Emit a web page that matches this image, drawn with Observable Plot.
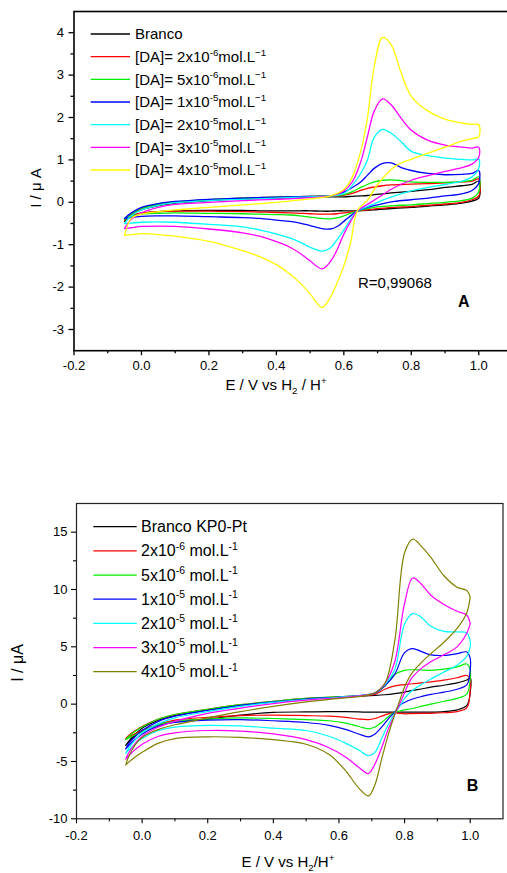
<!DOCTYPE html>
<html><head><meta charset="utf-8">
<script src="https://cdn.jsdelivr.net/npm/d3@7"></script>
<script src="https://cdn.jsdelivr.net/npm/@observablehq/plot@0.6"></script>
<style>
html,body{margin:0;padding:0;overflow:hidden;background:#fff;width:507px;height:873px}
#wrap{position:relative;width:507px;height:873px;overflow:hidden}
.panel{position:absolute;left:0}
#wrap svg{max-width:none !important;}
</style></head><body><div id="wrap"><div id="pa" class="panel" style="top:0"></div><div id="pb" class="panel" style="top:480px"></div></div>
<script>
// ---------- shared ----------
const xTicks = [-0.2, 0, 0.2, 0.4, 0.6, 0.8, 1.0];
const xMinor = [-0.1, 0.1, 0.3, 0.5, 0.7, 0.9];
const mantissas = ["2", "5", "1", "2", "3", "4"];
const exponents = ["-6", "-6", "-5", "-5", "-5", "-5"];

// ---------- panel A ----------
const namesA = ["Branco", "2e-6", "5e-6", "1e-5", "2e-5", "3e-5", "4e-5"];
const colorsA = ["#000000", "#ff0000", "#00ee00", "#0000ff", "#00ffff", "#ff00ff", "#ffff00"];
const yTicksA = [-3, -2, -1, 0, 1, 2, 3, 4];
const yMinorA = [-2.5, -1.5, -0.5, 0.5, 1.5, 2.5, 3.5];
const EfA = [-0.05, -0.03, 0, 0.05, 0.1, 0.2, 0.3, 0.4, 0.5, 0.56, 0.6, 0.625, 0.65, 0.67, 0.69, 0.715, 0.74, 0.77, 0.8, 0.85, 0.9, 0.95, 0.98, 1.0];
const IfA_black   = [-0.45,-0.3,-0.18,-0.08,-0.02,0.04,0.08,0.1,0.12,0.13,0.13,0.14,0.15,0.16,0.18,0.2,0.22,0.24,0.26,0.3,0.35,0.39,0.42,0.5];
const IfA_red     = [-0.42,-0.28,-0.15,-0.05,0,0.06,0.1,0.12,0.14,0.15,0.17,0.21,0.28,0.33,0.36,0.39,0.41,0.42,0.43,0.44,0.46,0.48,0.5,0.55];
const IfA_green   = [-0.4,-0.27,-0.14,-0.04,0.01,0.06,0.1,0.12,0.14,0.15,0.18,0.25,0.35,0.42,0.48,0.52,0.53,0.51,0.48,0.47,0.47,0.49,0.52,0.6];
const IfA_blue    = [-0.38,-0.25,-0.12,-0.03,0.02,0.07,0.1,0.12,0.14,0.15,0.24,0.35,0.48,0.64,0.8,0.92,0.93,0.82,0.75,0.68,0.65,0.66,0.68,0.75];
const IfA_cyan    = [-0.5,-0.32,-0.18,-0.07,-0.01,0.04,0.07,0.1,0.13,0.15,0.21,0.4,0.68,1.0,1.53,1.72,1.63,1.43,1.2,1.1,1.04,1.01,1.0,1.02];
const IfA_magenta = [-0.62,-0.4,-0.25,-0.12,-0.05,0,0.04,0.07,0.11,0.15,0.27,0.48,0.95,1.55,2.15,2.44,2.3,1.98,1.7,1.46,1.35,1.3,1.28,1.3];
const IfA_yellow  = [-0.78,-0.38,-0.28,-0.22,-0.18,-0.12,-0.06,0,0.08,0.15,0.3,0.6,1.2,2.0,3.2,3.89,3.72,3.05,2.5,2.15,1.96,1.87,1.84,1.83];
const ErA = [1.0, 0.98, 0.95, 0.9, 0.85, 0.8, 0.75, 0.7, 0.67, 0.64, 0.62, 0.6, 0.58, 0.56, 0.535, 0.5, 0.47, 0.44, 0.4, 0.35, 0.3, 0.2, 0.1, 0.05, 0, -0.03, -0.05];
const IrA_black   = [0.1,0.03,-0.02,-0.06,-0.09,-0.12,-0.14,-0.17,-0.19,-0.2,-0.2,-0.2,-0.2,-0.21,-0.21,-0.2,-0.2,-0.2,-0.2,-0.2,-0.19,-0.19,-0.2,-0.22,-0.26,-0.33,-0.45];
const IrA_red     = [0.15,0.06,0,-0.04,-0.07,-0.1,-0.12,-0.15,-0.18,-0.2,-0.23,-0.25,-0.27,-0.28,-0.28,-0.27,-0.26,-0.25,-0.24,-0.23,-0.22,-0.21,-0.21,-0.22,-0.25,-0.32,-0.42];
const IrA_green   = [0.25,0.1,0.04,0,-0.03,-0.06,-0.08,-0.11,-0.15,-0.2,-0.26,-0.32,-0.37,-0.39,-0.38,-0.35,-0.32,-0.3,-0.29,-0.28,-0.27,-0.26,-0.25,-0.26,-0.28,-0.33,-0.4];
const IrA_blue    = [0.45,0.28,0.2,0.15,0.1,0.06,0.02,-0.06,-0.12,-0.2,-0.32,-0.45,-0.57,-0.63,-0.62,-0.55,-0.49,-0.45,-0.42,-0.38,-0.36,-0.34,-0.32,-0.32,-0.33,-0.36,-0.38];
const IrA_cyan    = [0.8,0.6,0.5,0.42,0.35,0.27,0.15,0,-0.1,-0.2,-0.4,-0.65,-0.88,-1.08,-1.15,-1.06,-0.94,-0.84,-0.75,-0.65,-0.58,-0.52,-0.47,-0.46,-0.47,-0.49,-0.5];
const IrA_magenta = [1.06,0.9,0.82,0.73,0.63,0.52,0.35,0.1,-0.05,-0.2,-0.45,-0.75,-1.12,-1.4,-1.57,-1.38,-1.2,-1.06,-0.93,-0.8,-0.72,-0.63,-0.57,-0.56,-0.57,-0.6,-0.62];
const IrA_yellow  = [1.55,1.5,1.44,1.3,1.16,1.02,0.84,0.42,0.05,-0.2,-0.95,-1.5,-1.9,-2.24,-2.48,-2.16,-1.9,-1.69,-1.47,-1.28,-1.14,-0.92,-0.8,-0.76,-0.74,-0.76,-0.78];

// ---------- panel B ----------
const namesB = ["Branco KP0-Pt", "2e-6", "5e-6", "1e-5", "2e-5", "3e-5", "4e-5"];
const colorsB = ["#000000", "#ff0000", "#00ee00", "#0000ff", "#00ffff", "#ff00ff", "#808000"];
const yTicksB = [-10, -5, 0, 5, 10, 15];
const yMinorB = [-7.5, -2.5, 2.5, 7.5, 12.5];
const EfB = [-0.05, -0.04, -0.02, 0, 0.05, 0.1, 0.2, 0.3, 0.4, 0.5, 0.6, 0.68, 0.71, 0.74, 0.77, 0.8, 0.825, 0.85, 0.88, 0.92, 0.96, 0.99, 1.0];
const IfB_black   = [-3.6,-3.2,-2.6,-2.1,-1.4,-1.0,-0.5,-0.1,0.2,0.45,0.6,0.72,0.76,0.82,0.92,1.05,1.2,1.32,1.48,1.65,1.85,2.1,2.3];
const IfB_red     = [-3.0,-2.7,-2.3,-1.95,-1.3,-0.9,-0.45,-0.05,0.25,0.5,0.65,0.75,0.85,1.3,1.6,1.7,1.78,1.85,1.95,2.1,2.3,2.5,2.2];
const IfB_green   = [-3.1,-2.8,-2.35,-2.0,-1.3,-0.9,-0.45,-0.05,0.25,0.5,0.65,0.8,0.95,1.6,2.6,2.95,3.0,2.98,2.95,3.05,3.25,3.5,3.0];
const IfB_blue    = [-3.9,-3.4,-2.8,-2.3,-1.5,-1.05,-0.55,-0.1,0.2,0.45,0.62,0.8,0.95,1.6,2.6,4.5,4.85,4.6,4.3,4.25,4.4,4.55,4.0];
const IfB_cyan    = [-4.3,-3.8,-3.1,-2.5,-1.7,-1.2,-0.65,-0.2,0.15,0.4,0.6,0.8,1.0,1.7,3.0,7.0,7.9,7.6,6.8,6.35,6.3,6.2,5.5];
const IfB_magenta = [-4.8,-4.2,-3.4,-2.8,-2.0,-1.5,-0.8,-0.35,0.05,0.35,0.55,0.78,1.0,1.8,3.7,8.8,11.0,10.5,9.5,8.7,8.1,7.75,7.0];
const IfB_olive   = [-5.3,-4.5,-3.5,-2.9,-2.2,-1.8,-1.2,-0.65,-0.2,0.2,0.5,0.75,1.0,1.8,5.5,13.2,14.4,13.8,12.8,11.2,10.2,9.9,9.35];
const ErB = [1.0, 0.99, 0.96, 0.92, 0.88, 0.85, 0.82, 0.8, 0.785, 0.77, 0.75, 0.73, 0.71, 0.69, 0.66, 0.62, 0.57, 0.5, 0.4, 0.3, 0.2, 0.1, 0.05, 0, -0.03, -0.05];
const IrB_black   = [1.0,-0.1,-0.5,-0.65,-0.7,-0.7,-0.7,-0.7,-0.7,-0.7,-0.7,-0.7,-0.7,-0.7,-0.68,-0.66,-0.65,-0.68,-0.72,-0.95,-1.3,-1.5,-1.8,-2.3,-3.0,-3.6];
const IrB_red     = [1.2,-0.3,-0.65,-0.75,-0.8,-0.8,-0.82,-0.84,-0.8,-0.75,-0.85,-1.05,-1.25,-1.35,-1.3,-1.15,-1.05,-1.0,-0.95,-1.0,-1.15,-1.4,-1.75,-2.3,-2.7,-3.0];
const IrB_green   = [2.2,0.9,0.5,0.25,0.0,-0.2,-0.4,-0.5,-0.6,-0.7,-1.1,-1.6,-2.0,-2.15,-1.95,-1.65,-1.45,-1.35,-1.25,-1.2,-1.3,-1.5,-1.8,-2.4,-2.8,-3.1];
const IrB_blue    = [3.0,1.7,1.3,1.05,0.85,0.65,0.4,0.15,-0.1,-0.7,-1.3,-2.0,-2.6,-2.85,-2.6,-2.2,-1.85,-1.6,-1.45,-1.35,-1.4,-1.6,-1.9,-2.6,-3.3,-3.9];
const IrB_cyan    = [5.0,4.2,3.4,2.8,2.2,1.7,1.1,0.5,-0.2,-0.8,-1.8,-3.0,-4.2,-4.5,-4.0,-3.4,-2.8,-2.3,-2.1,-1.9,-1.85,-2.0,-2.3,-3.0,-3.7,-4.3];
const IrB_magenta = [7.0,6.2,5.0,4.3,3.7,3.1,2.2,1.0,0.0,-0.9,-2.2,-3.8,-5.2,-6.05,-5.5,-4.6,-3.8,-3.1,-2.6,-2.35,-2.3,-2.5,-2.8,-3.5,-4.2,-4.8];
const IrB_olive   = [9.35,8.0,6.6,5.4,4.4,3.6,2.6,1.5,0.3,-0.9,-2.7,-4.8,-7.0,-8.0,-7.3,-5.8,-4.4,-3.5,-3.1,-2.9,-2.85,-3.0,-3.4,-4.2,-4.8,-5.3];

const IfA = [IfA_black, IfA_red, IfA_green, IfA_blue, IfA_cyan, IfA_magenta, IfA_yellow];
const IrA = [IrA_black, IrA_red, IrA_green, IrA_blue, IrA_cyan, IrA_magenta, IrA_yellow];
const IfB = [IfB_black, IfB_red, IfB_green, IfB_blue, IfB_cyan, IfB_magenta, IfB_olive];
const IrB = [IrB_black, IrB_red, IrB_green, IrB_blue, IrB_cyan, IrB_magenta, IrB_olive];

const FONT = "'Liberation Sans', Arial, Helvetica, sans-serif";

function loops(names, Ef, If, Er, Ir) {
  const out = [];
  names.forEach((n, k) => {
    Ef.forEach((e, i) => out.push({E: e, I: If[k][i], s: n}));
    Er.forEach((e, i) => out.push({E: e, I: Ir[k][i], s: n}));
  });
  return out;
}

function rich(parent, x, y, fs, parts, attrs = {}) {
  const t = parent.append("text").attr("x", x).attr("y", y).attr("font-size", fs)
    .attr("font-family", FONT).attr("fill", "#000").attr("text-anchor", "start");
  Object.entries(attrs).forEach(([k, v]) => t.attr(k, v));
  let shift = 0;
  parts.forEach(p => {
    const target = p.sup ? -0.42 * fs : p.sub ? 0.28 * fs : 0;
    const ts = t.append("tspan").attr("dy", target - shift).text(p.t);
    if (p.sup || p.sub) ts.attr("font-size", 0.65 * fs);
    shift = target;
  });
  return t;
}

function panel(cfg) {
  const data = loops(cfg.names, cfg.Ef, cfg.If, cfg.Er, cfg.Ir);
  const svg = Plot.plot({
    width: cfg.width, height: cfg.height,
    marginLeft: cfg.ml, marginRight: cfg.mr, marginTop: cfg.mt, marginBottom: cfg.mb,
    style: {fontFamily: FONT, fontSize: cfg.tickFont + "px", color: "#000", background: "transparent", overflow: "visible", maxWidth: "none"},
    x: {domain: [-0.2, 1.1], label: null},
    y: {domain: cfg.yDomain, label: null},
    color: {domain: cfg.names, range: cfg.colors},
    marks: [
      Plot.line(data, {x: "E", y: "I", z: "s", stroke: "s", strokeWidth: cfg.lw, curve: "catmull-rom"}),
      Plot.axisX(xTicks, {tickSize: 5, tickPadding: cfg.xpad, tickFormat: d => d.toFixed(1), fontSize: cfg.tickFont, strokeWidth: cfg.tw, label: null}),
      Plot.axisX(xMinor, {tickSize: 3, tickFormat: () => "", strokeWidth: cfg.tw, label: null}),
      Plot.axisY(cfg.yTicks, {tickSize: 5, tickPadding: cfg.ypad, tickFormat: d => String(d), fontSize: cfg.tickFont, strokeWidth: cfg.tw, label: null}),
      Plot.axisY(cfg.yMinor, {tickSize: 3, tickFormat: () => "", strokeWidth: cfg.tw, label: null}),
      Plot.frame({stroke: cfg.frameColor, strokeWidth: cfg.fw})
    ]
  });
  return svg;
}

// ----- draw A -----
const svgA = panel({
  names: namesA, colors: colorsA, Ef: EfA, If: IfA, Er: ErA, Ir: IrA,
  width: 520, height: 400, ml: 73.5, mr: 8, mt: 11, mb: 49.8,
  yDomain: [-3.5, 4.5], yTicks: yTicksA, yMinor: yMinorA,
  tickFont: 13, lw: 1.3, tw: 1.3, fw: 1.6, frameColor: "#000", xpad: 5, ypad: 5
});
document.getElementById("pa").appendChild(svgA);
{
  const g = d3.select(svgA).append("g");
  const rowY = i => 34 + i * 22.67;
  namesA.forEach((n, i) => {
    g.append("line").attr("x1", 90.7).attr("x2", 130).attr("y1", rowY(i)).attr("y2", rowY(i))
      .attr("stroke", colorsA[i]).attr("stroke-width", 1.3);
    const parts = i === 0 ? [{t: "Branco"}] :
      [{t: "[DA]= " + mantissas[i - 1] + "x10"}, {t: exponents[i - 1], sup: true}, {t: "mol.L"}, {t: "\u22121", sup: true}];
    rich(g, 135, rowY(i) + 5.3, 15, parts);
  });
  rich(g, 35, 188, 15, [{t: "I / \u03bc A"}], {"text-anchor": "middle", "transform": "rotate(-90,35,188)", "dominant-baseline": "central"});
  rich(g, 276, 390, 15, [{t: "E / V vs H"}, {t: "2", sub: true}, {t: " / H"}, {t: "+", sup: true}], {"text-anchor": "middle"});
  rich(g, 358, 288, 15, [{t: "R=0,99068"}]);
  rich(g, 458, 306.7, 16, [{t: "A"}], {"font-weight": "bold"});
}

// ----- draw B -----
const svgB = panel({
  names: namesB, colors: colorsB, Ef: EfB, If: IfB, Er: ErB, Ir: IrB,
  width: 507, height: 393, ml: 76, mr: 4.5, mt: 23, mb: 54.7,
  yDomain: [-10, 17.5], yTicks: yTicksB, yMinor: yMinorB,
  tickFont: 13, lw: 1.2, tw: 1.1, fw: 1.2, frameColor: "#222", xpad: 7, ypad: 4
});
document.getElementById("pb").appendChild(svgB);
{
  const g = d3.select(svgB).append("g");
  const rowY = i => 46.7 + i * 24.17;
  namesB.forEach((n, i) => {
    g.append("line").attr("x1", 93.3).attr("x2", 136.7).attr("y1", rowY(i)).attr("y2", rowY(i))
      .attr("stroke", colorsB[i]).attr("stroke-width", 1.2);
    const parts = i === 0 ? [{t: "Branco KP0-Pt"}] :
      [{t: mantissas[i - 1] + "x10"}, {t: exponents[i - 1], sup: true}, {t: " mol.L"}, {t: "-1", sup: true}];
    rich(g, 141, rowY(i) + 5.6, 16, parts);
  });
  rich(g, 17, 183, 16, [{t: "I / \u03bcA"}], {"text-anchor": "middle", "transform": "rotate(-90,17,183)", "dominant-baseline": "central"});
  rich(g, 288, 387, 15, [{t: "E / V vs H"}, {t: "2", sub: true}, {t: "/H"}, {t: "+", sup: true}], {"text-anchor": "middle"});
  rich(g, 466.7, 310.7, 16, [{t: "B"}], {"font-weight": "bold"});
}
</script></body></html>
